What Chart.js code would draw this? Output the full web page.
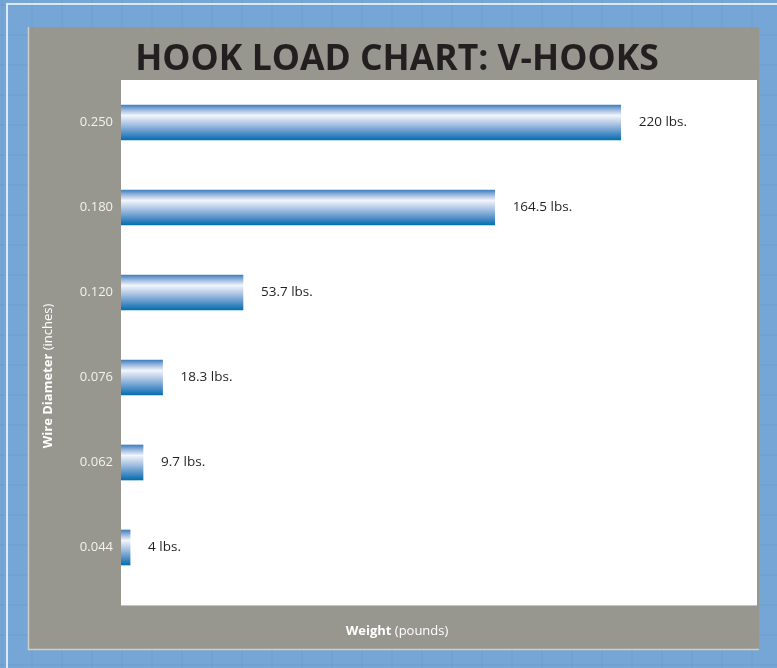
<!DOCTYPE html>
<html>
<head>
<meta charset="utf-8">
<title>Hook Load Chart: V-Hooks</title>
<script src="https://cdn.jsdelivr.net/npm/chart.js@4.4.1/dist/chart.umd.min.js"></script>
<style>
  html, body { margin: 0; padding: 0; background: #75a6d6; }
  #wrap { width: 777px; height: 668px; position: relative; }
</style>
</head>
<body>
<div id="wrap"><canvas id="hookChart" width="777" height="668"></canvas></div>
<script>
// wire sizes (top to bottom) and rated loads
const diameters = ['0.250', '0.180', '0.120', '0.076', '0.062', '0.044'];
const loads = [220, 164.5, 53.7, 18.3, 9.7, 4];
const loadLabels = ['220 lbs.', '164.5 lbs.', '53.7 lbs.', '18.3 lbs.', '9.7 lbs.', '4 lbs.'];
const weightMax = 280;

const FONT = "'Open Sans', 'Noto Sans', sans-serif";
const BAR_H = 35;

// blue tiled backdrop, grey panel, white plot box
const framePlugin = {
  id: 'frame',
  beforeDraw(chart) {
    const { ctx, width, height, chartArea } = chart;
    ctx.save();
    ctx.fillStyle = '#75a6d6';
    ctx.fillRect(0, 0, width, height);

    ctx.strokeStyle = 'rgba(70, 120, 180, 0.09)';
    ctx.lineWidth = 2;
    for (let y = 5; y < height; y += 30) {
      ctx.beginPath(); ctx.moveTo(0, y); ctx.lineTo(width, y); ctx.stroke();
    }
    for (let x = 2; x < width; x += 30) {
      ctx.beginPath(); ctx.moveTo(x, 0); ctx.lineTo(x, height); ctx.stroke();
    }

    // light outer rule
    ctx.strokeStyle = '#dbe8f5';
    ctx.lineWidth = 2;
    ctx.beginPath();
    ctx.moveTo(width, 4); ctx.lineTo(7, 4); ctx.lineTo(7, height);
    ctx.stroke();

    // grey panel
    ctx.fillStyle = '#979790';
    ctx.fillRect(28, 27, 731, 623);
    ctx.strokeStyle = '#cfcfc8';
    ctx.lineWidth = 1.5;
    ctx.beginPath();
    ctx.moveTo(28.5, 27); ctx.lineTo(28.5, 649.5); ctx.lineTo(759, 649.5);
    ctx.stroke();

    // white plot box
    ctx.fillStyle = '#ffffff';
    ctx.fillRect(chartArea.left, chartArea.top, chartArea.right - chartArea.left, 605 - chartArea.top);
    ctx.strokeStyle = '#c4c4c0';
    ctx.lineWidth = 1;
    ctx.beginPath();
    ctx.moveTo(chartArea.left, 605.5); ctx.lineTo(chartArea.right, 605.5);
    ctx.stroke();

    // heading
    ctx.fillStyle = '#231f20';
    ctx.font = 'bold 35.5px ' + FONT;
    ctx.textAlign = 'center';
    ctx.textBaseline = 'alphabetic';
    ctx.fillText('HOOK LOAD CHART: V-HOOKS', 397, 70);
    ctx.restore();
  },
  afterDraw(chart) {
    const { ctx } = chart;
    ctx.save();
    ctx.fillStyle = '#ffffff';
    ctx.textBaseline = 'middle';

    // x axis title, bold word + regular unit
    const bold = 'Weight';
    const reg = ' (pounds)';
    ctx.font = 'bold 13px ' + FONT;
    const wb = ctx.measureText(bold).width;
    ctx.font = '13px ' + FONT;
    const wr = ctx.measureText(reg).width;
    let x0 = 397 - (wb + wr) / 2;
    ctx.textAlign = 'left';
    ctx.font = 'bold 13px ' + FONT;
    ctx.fillText(bold, x0, 631);
    ctx.font = '13px ' + FONT;
    ctx.fillText(reg, x0 + wb, 631);

    // y axis title, rotated
    const yb = 'Wire Diameter';
    const yr = ' (inches)';
    ctx.translate(48, 376);
    ctx.rotate(-Math.PI / 2);
    ctx.font = 'bold 13px ' + FONT;
    const wyb = ctx.measureText(yb).width;
    ctx.font = '13px ' + FONT;
    const wyr = ctx.measureText(yr).width;
    x0 = -(wyb + wyr) / 2;
    ctx.font = 'bold 13px ' + FONT;
    ctx.fillText(yb, x0, 0);
    ctx.font = '13px ' + FONT;
    ctx.fillText(yr, x0 + wyb, 0);
    ctx.restore();
  }
};

// "xx lbs." text beside each bar
const valueLabels = {
  id: 'valueLabels',
  afterDatasetsDraw(chart) {
    const { ctx } = chart;
    const meta = chart.getDatasetMeta(0);
    ctx.save();
    ctx.fillStyle = '#231f20';
    ctx.font = '13.5px ' + FONT;
    ctx.textAlign = 'left';
    ctx.textBaseline = 'middle';
    meta.data.forEach((bar, i) => {
      ctx.fillText(loadLabels[i], bar.x + 18, bar.y);
    });
    ctx.restore();
  }
};

function tubeFill(context) {
  const chart = context.chart;
  const yScale = chart.scales.y;
  if (!yScale || context.type !== 'data') return '#3a7fc0';
  const c = yScale.getPixelForValue(context.dataIndex);
  if (!isFinite(c)) return '#3a7fc0';
  const g = chart.ctx.createLinearGradient(0, c - BAR_H / 2, 0, c + BAR_H / 2);
  g.addColorStop(0, '#3f7fbf');
  g.addColorStop(0.12, '#8fb0da');
  g.addColorStop(0.3, '#f2f5fb');
  g.addColorStop(0.55, '#a9c2e2');
  g.addColorStop(0.85, '#3f86c2');
  g.addColorStop(1, '#0070ad');
  return g;
}

new Chart(document.getElementById('hookChart'), {
  type: 'bar',
  data: {
    labels: diameters,
    datasets: [{
      data: loads,
      backgroundColor: tubeFill,
      borderWidth: 0,
      barThickness: BAR_H
    }]
  },
  options: {
    indexAxis: 'y',
    responsive: false,
    animation: false,
    layout: { padding: { left: 28, top: 80, right: 20, bottom: 78 } },
    plugins: {
      legend: { display: false },
      tooltip: { enabled: false }
    },
    scales: {
      x: {
        display: false,
        min: 0,
        max: weightMax
      },
      y: {
        grid: { display: false, drawTicks: false },
        border: { display: false },
        afterFit: s => { s.width = 93; },
        ticks: {
          color: '#f2f2ee',
          padding: 8,
          font: { family: FONT, size: 13 }
        }
      }
    }
  },
  plugins: [framePlugin, valueLabels]
});
</script>
</body>
</html>
